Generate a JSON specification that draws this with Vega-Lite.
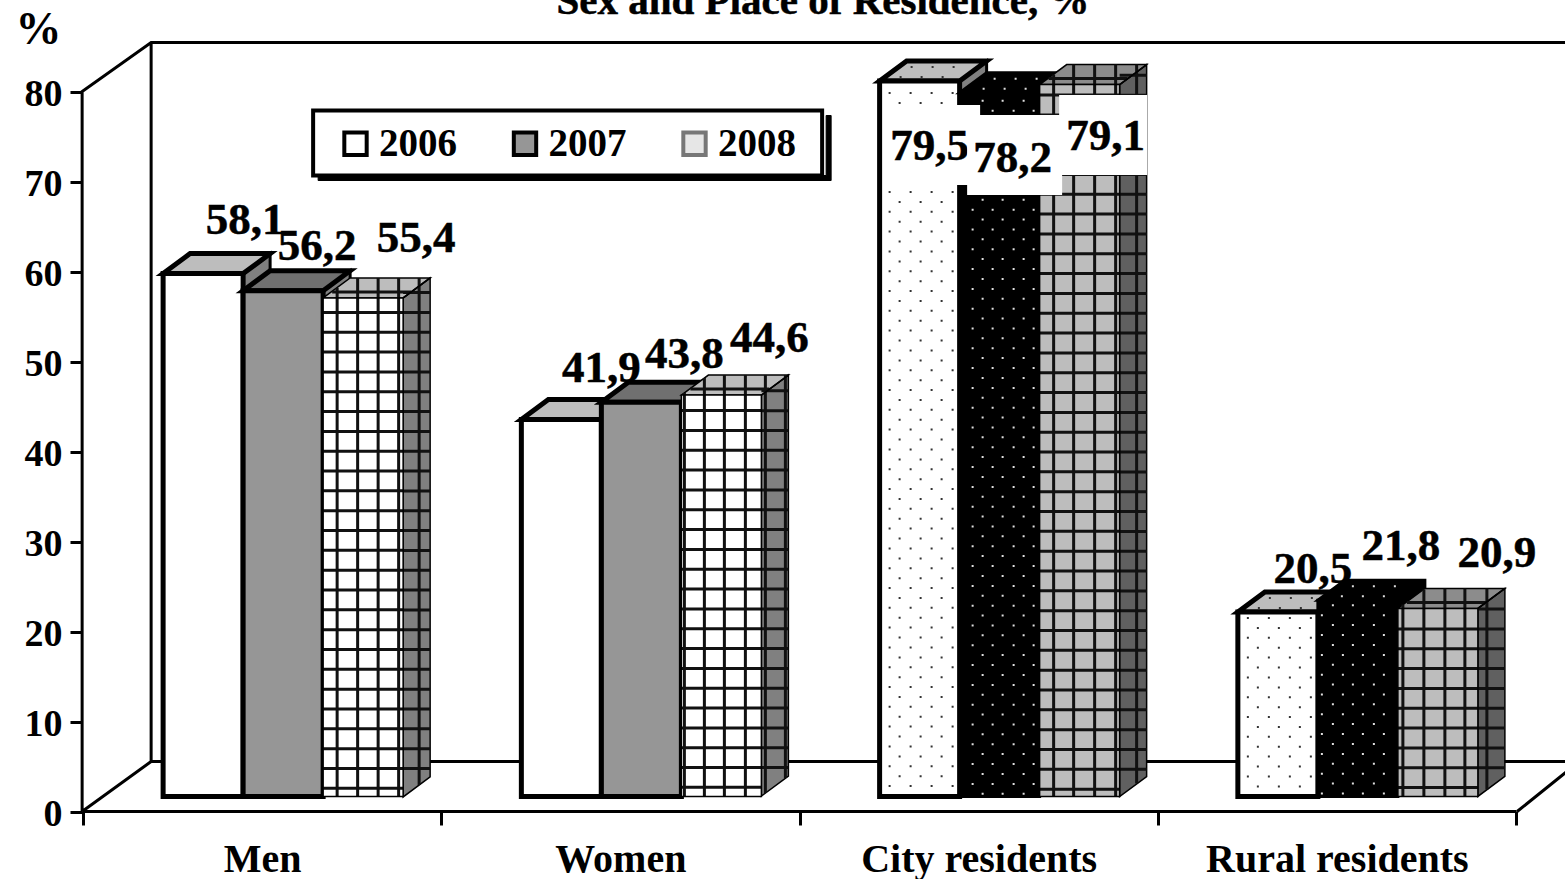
{"$schema":"https://vega.github.io/schema/vega-lite/v6.json","width":1565,"height":879,"padding":0,"autosize":{"type":"none"},"background":"white",
"config":{"view":{"stroke":null},"font":"Liberation Serif","text":{"stroke":"black","strokeWidth":0.5}},
"data":{"values":[
{"group":"Men","year":"2006","value":58.1,"label":"58,1"},
{"group":"Men","year":"2007","value":56.2,"label":"56,2"},
{"group":"Men","year":"2008","value":55.4,"label":"55,4"},
{"group":"Women","year":"2006","value":41.9,"label":"41,9"},
{"group":"Women","year":"2007","value":43.8,"label":"43,8"},
{"group":"Women","year":"2008","value":44.6,"label":"44,6"},
{"group":"City residents","year":"2006","value":79.5,"label":"79,5"},
{"group":"City residents","year":"2007","value":78.2,"label":"78,2"},
{"group":"City residents","year":"2008","value":79.1,"label":"79,1"},
{"group":"Rural residents","year":"2006","value":20.5,"label":"20,5"},
{"group":"Rural residents","year":"2007","value":21.8,"label":"21,8"},
{"group":"Rural residents","year":"2008","value":20.9,"label":"20,9"}
]},
"resolve":{"scale":{"x":"independent","y":"independent"},"axis":{"x":"independent","y":"independent"}},
"layer":[
{"transform":[{"filter":"datum.group=='Men'&&datum.year=='2007'"}],
"encoding":{
"x":{"field":"group","type":"nominal","scale":{"domain":["Men","Women","City residents","Rural residents"],"range":[83,1516],"paddingInner":0,"paddingOuter":0},"axis":{"title":null,"labelAngle":0,"offset":-68,"tickBand":"extent","ticks":true,"tickSize":14,"tickWidth":3,"tickColor":"black","domainWidth":3,"domainColor":"black","labelFont":"Liberation Serif","labelFontWeight":"bold","labelFontSize":40,"labelColor":"black","labelPadding":14,"labelOverlap":false,"labelLimit":500}},
"y":{"datum":0,"type":"quantitative","scale":{"domain":[-7.5,90.17],"nice":false,"zero":false},"axis":{"title":"%","titleAngle":0,"titleFontSize":46,"titleFont":"Liberation Serif","titleFontWeight":"bold","titleColor":"black","titleX":-44,"titleY":43,"titleAlign":"center","titleBaseline":"alphabetic","offset":-82,"zindex":1,"values":[0,10,20,30,40,50,60,70,80],"domain":false,"grid":false,"ticks":true,"tickSize":12,"tickWidth":3,"tickColor":"black","tickOpacity":1,"labelFont":"Liberation Serif","labelFontWeight":"bold","labelFontSize":38,"labelColor":"black","labelPadding":8,"labelOffset":3,"labelOverlap":false}}
},
"layer":[
{"mark":{"type":"point","opacity":1,"size":4,"filled":false,"stroke":"black","strokeWidth":3,"shape":"M-180,0V-720L-111,-769H1303M-111,-769V-50H1303M-180,0L-111,-50M1255,0L1306,-41"}},
{"mark":{"type":"point","opacity":1,"size":4,"filled":true,"fill":"black","stroke":"black","strokeWidth":1,"shape":"M56,-631H569V-696H564V-636H56Z"}},
{"mark":{"type":"point","opacity":1,"size":4,"filled":true,"fill":"white","stroke":"black","strokeWidth":4,"shape":"M51,-636H560V-701H51Z"}}
]},
{"transform":[{"filter":"datum.group=='City residents'&&datum.year=='2007'"}],
"mark":{"type":"text","text":"Sex and Place of Residence, %","dx":-155.6,"fontSize":41,"fontWeight":"bold","font":"Liberation Serif","color":"black","align":"center","baseline":"alphabetic"},
"encoding":{
"x":{"field":"group","type":"nominal","scale":{"domain":["Men","Women","City residents","Rural residents"],"range":[83,1516],"paddingInner":0,"paddingOuter":0},"axis":null},
"y":{"datum":88.6,"type":"quantitative","scale":{"domain":[-7.5,90.17],"nice":false,"zero":false},"axis":null}
}},

{"encoding":{
"x":{"field":"group","type":"nominal","scale":{"domain":["Men","Women","City residents","Rural residents"],"range":[104,1537],"paddingInner":0.33,"paddingOuter":0.165},"axis":null},
"xOffset":{"field":"year","type":"nominal","scale":{"domain":["2006","2007","2008"]}},
"y":{"field":"value","type":"quantitative","stack":null,"scale":{"domain":[-9.167,88.5],"nice":false,"zero":false},"axis":null}
},
"layer":[
{"transform":[{"filter":"datum.year=='2006'"}],"layer":[
{"mark":{"type":"point","opacity":1,"size":4,"filled":true,"fill":"#808080","stroke":"black","strokeWidth":3,"shape":"M40,0L67,-20L67,30L40,50Z"}},
{"mark":{"type":"point","opacity":1,"size":4,"filled":true,"fill":"#bdbdbd","stroke":"black","strokeWidth":5,"shape":"M-40,0L-13,-20L67,-20L40,0Z"}},
{"mark":{"type":"bar","fill":"white"}},
{"transform":[{"filter":"datum.group=='City residents'||datum.group=='Rural residents'"}],"mark":{"type":"point","opacity":1,"size":4,"filled":true,"fill":"#333","stroke":null,"shape":"M-9,-15h2v2h-2zM12,-15h2v2h-2zM33,-15h2v2h-2zM-20,-5h2v2h-2zM1,-5h2v2h-2zM22,-5h2v2h-2z"}},
{"transform":[{"filter":"datum.group=='City residents'"}],"mark":{"type":"point","opacity":1,"size":4,"filled":false,"stroke":"#333","strokeWidth":2,"strokeDash":[2,17.8],"shape":"M-30,11V715M-9,11V715M12,11V715M33,11V715M-20,21V715M1,21V715M22,21V715"}},
{"transform":[{"filter":"datum.group=='Rural residents'"}],"mark":{"type":"point","opacity":1,"size":4,"filled":false,"stroke":"#333","strokeWidth":2,"strokeDash":[2,17.8],"shape":"M-30,5V184M-9,5V184M12,5V184M33,5V184M-20,15V184M1,15V184M22,15V184"}},
{"mark":{"type":"bar","fillOpacity":0,"stroke":"black","strokeWidth":5}}
]},

{"transform":[{"filter":"datum.year=='2007'&&(datum.group=='Men'||datum.group=='Women')"}],"layer":[
{"mark":{"type":"point","opacity":1,"size":4,"filled":true,"fill":"#808080","stroke":"black","strokeWidth":3,"shape":"M40,0L67,-20L67,30L40,50Z"}},
{"mark":{"type":"point","opacity":1,"size":4,"filled":true,"fill":"#707070","stroke":"black","strokeWidth":5,"shape":"M-40,0L-13,-20L67,-20L40,0Z"}},
{"mark":{"type":"bar","fill":"#969696","stroke":"black","strokeWidth":5}}
]},
{"transform":[{"filter":"datum.year=='2007'&&(datum.group=='City residents'||datum.group=='Rural residents')"}],"layer":[
{"mark":{"type":"point","opacity":1,"size":4,"filled":true,"fill":"black","stroke":"black","strokeWidth":3,"shape":"M-40,0L-13,-20L67,-20L67,30L40,50L40,0Z"}},
{"mark":{"type":"bar","fill":"black","stroke":"black","strokeWidth":3}},
{"mark":{"type":"point","opacity":1,"size":4,"filled":true,"fill":"#ddd","stroke":null,"shape":"M-6,-15h2v2h-2zM15,-15h2v2h-2zM36,-15h2v2h-2zM-17,-5h2v2h-2zM4,-5h2v2h-2zM25,-5h2v2h-2z"}},
{"transform":[{"filter":"datum.group=='City residents'"}],"mark":{"type":"point","opacity":1,"size":4,"filled":false,"stroke":"#e0e0e0","strokeWidth":2,"strokeDash":[2,17.8],"shape":"M-27,17V703M-7,17V703M14,17V703M34,17V703M-17,7V703M3,7V703M24,7V703"}},
{"transform":[{"filter":"datum.group=='Rural residents'"}],"mark":{"type":"point","opacity":1,"size":4,"filled":false,"stroke":"#e0e0e0","strokeWidth":2,"strokeDash":[2,17.8],"shape":"M-36,14V196M-15,14V196M5,14V196M26,14V196M-25,4V196M-5,4V196M16,4V196"}}
]},

{"transform":[{"filter":"datum.year=='2008'"}],"layer":[
{"transform":[{"filter":"datum.group=='Men'"}],"mark":{"type":"point","opacity":1,"size":4,"filled":true,"fill":"#808080","stroke":"black","strokeWidth":1.5,"shape":"M40,0L67,-20L67,479L40,499Z"}},
{"transform":[{"filter":"datum.group=='Women'"}],"mark":{"type":"point","opacity":1,"size":4,"filled":true,"fill":"#808080","stroke":"black","strokeWidth":1.5,"shape":"M40,0L67,-20L67,381L40,401Z"}},
{"transform":[{"filter":"datum.group=='City residents'"}],"mark":{"type":"point","opacity":1,"size":4,"filled":true,"fill":"#606060","stroke":"black","strokeWidth":1.5,"shape":"M40,0L67,-20L67,692L40,712Z"}},
{"transform":[{"filter":"datum.group=='Rural residents'"}],"mark":{"type":"point","opacity":1,"size":4,"filled":true,"fill":"#606060","stroke":"black","strokeWidth":1.5,"shape":"M40,0L67,-20L67,168L40,188Z"}},
{"transform":[{"filter":"datum.group=='Men'||datum.group=='Women'"}],"layer":[
{"mark":{"type":"point","opacity":1,"size":4,"filled":true,"fill":"#bdbdbd","stroke":"black","strokeWidth":1.5,"shape":"M-40,0L-13,-20L67,-20L40,0Z"}},
{"mark":{"type":"bar","fill":"white"}}
]},
{"transform":[{"filter":"datum.group=='City residents'||datum.group=='Rural residents'"}],"layer":[
{"mark":{"type":"point","opacity":1,"size":4,"filled":true,"fill":"#8c8c8c","stroke":"black","strokeWidth":1.5,"shape":"M-40,0L-13,-20L67,-20L40,0Z"}},
{"mark":{"type":"bar","fill":"#bdbdbd"}}
]},
{"transform":[{"filter":"datum.group=='Men'"}],"layer":[
{"mark":{"type":"point","opacity":1,"size":4,"filled":false,"stroke":"#111","strokeWidth":80,"strokeDash":[3,16.83],"shape":"M0,13V499"}},
{"mark":{"type":"point","opacity":1,"size":4,"filled":false,"stroke":"#111","strokeWidth":27,"strokeDash":[3,16.83],"shape":"M53.5,-6.8V479"}},
{"mark":{"type":"point","opacity":1,"size":4,"filled":false,"stroke":"#111","strokeWidth":3,"shape":"M-26,-10V499M-5.5,-20V499M15,-20V499M35.5,-20V499M56,-20V487M-31,-6H48"}}
]},
{"transform":[{"filter":"datum.group=='Women'"}],"layer":[
{"mark":{"type":"point","opacity":1,"size":4,"filled":false,"stroke":"#111","strokeWidth":80,"strokeDash":[3,16.83],"shape":"M0,14V401"}},
{"mark":{"type":"point","opacity":1,"size":4,"filled":false,"stroke":"#111","strokeWidth":27,"strokeDash":[3,16.83],"shape":"M53.5,-5.8V381"}},
{"mark":{"type":"point","opacity":1,"size":4,"filled":false,"stroke":"#111","strokeWidth":3,"shape":"M-37,-2V401M-17,-17V401M3,-20V401M24,-20V401M44,-20V398M64,-20V383M-31,-6H48"}}
]},
{"transform":[{"filter":"datum.group=='City residents'"}],"layer":[
{"mark":{"type":"point","opacity":1,"size":4,"filled":false,"stroke":"#111","strokeWidth":80,"strokeDash":[3,16.83],"shape":"M0,9V712"}},
{"mark":{"type":"point","opacity":1,"size":4,"filled":false,"stroke":"#111","strokeWidth":27,"strokeDash":[3,16.83],"shape":"M53.5,-10.8V692"}},
{"mark":{"type":"point","opacity":1,"size":4,"filled":false,"stroke":"#111","strokeWidth":3,"shape":"M-26,-10V712M-6,-20V712M15,-20V712M36,-20V712M57,-20V699M-31,-6H48"}}
]},
{"transform":[{"filter":"datum.group=='Rural residents'"}],"layer":[
{"mark":{"type":"point","opacity":1,"size":4,"filled":false,"stroke":"#111","strokeWidth":80,"strokeDash":[3,16.83],"shape":"M0,19V188"}},
{"mark":{"type":"point","opacity":1,"size":4,"filled":false,"stroke":"#111","strokeWidth":27,"strokeDash":[3,16.83],"shape":"M53.5,-0.8V168"}},
{"mark":{"type":"point","opacity":1,"size":4,"filled":false,"stroke":"#111","strokeWidth":3,"shape":"M-35,-4V188M-14,-19V188M7,-20V188M27,-20V188M49,-20V181M-31,-6H48"}}
]},
{"mark":{"type":"bar","fillOpacity":0,"stroke":"black","strokeWidth":1.5}},
{"mark":{"type":"point","opacity":1,"size":4,"filled":false,"stroke":"black","strokeWidth":1.5,"shape":"M40,0L67,-20"}}
]},

{"transform":[{"filter":"datum.group=='City residents'&&datum.year=='2006'"}],"layer":[
{"mark":{"type":"point","opacity":1,"size":4,"filled":true,"fill":"white","stroke":null,"shape":"M-36.5,24H60.5V104H-36.5Z"}},
{"mark":{"type":"text","dx":10,"dy":79,"fontSize":45,"fontWeight":"bold","font":"Liberation Serif","color":"black","align":"center","baseline":"alphabetic"},"encoding":{"text":{"field":"label"}}}
]},
{"transform":[{"filter":"datum.group=='City residents'&&datum.year=='2007'"}],"layer":[
{"mark":{"type":"point","opacity":1,"size":4,"filled":true,"fill":"white","stroke":null,"shape":"M-32.5,22.3H62.5V102.3H-32.5Z"}},
{"mark":{"type":"text","dx":13,"dy":79.3,"fontSize":45,"fontWeight":"bold","font":"Liberation Serif","color":"black","align":"center","baseline":"alphabetic"},"encoding":{"text":{"field":"label"}}}
]},
{"transform":[{"filter":"datum.group=='City residents'&&datum.year=='2008'"}],"layer":[
{"mark":{"type":"point","opacity":1,"size":4,"filled":true,"fill":"white","stroke":null,"shape":"M-20.5,10.4H67.5V90.4H-20.5Z"}},
{"mark":{"type":"text","dx":26,"dy":65.4,"fontSize":45,"fontWeight":"bold","font":"Liberation Serif","color":"black","align":"center","baseline":"alphabetic"},"encoding":{"text":{"field":"label"}}}
]},
{"transform":[{"filter":"datum.group=='Men'&&datum.year=='2006'"}],"mark":{"type":"text","dx":42,"dy":-39.6,"fontSize":45,"fontWeight":"bold","font":"Liberation Serif","color":"black","align":"center","baseline":"alphabetic"},"encoding":{"text":{"field":"label"}}},
{"transform":[{"filter":"datum.group=='Men'&&datum.year=='2007'"}],"mark":{"type":"text","dx":34,"dy":-30.7,"fontSize":45,"fontWeight":"bold","font":"Liberation Serif","color":"black","align":"center","baseline":"alphabetic"},"encoding":{"text":{"field":"label"}}},
{"transform":[{"filter":"datum.group=='Men'&&datum.year=='2008'"}],"mark":{"type":"text","dx":53,"dy":-45.9,"fontSize":45,"fontWeight":"bold","font":"Liberation Serif","color":"black","align":"center","baseline":"alphabetic"},"encoding":{"text":{"field":"label"}}},
{"transform":[{"filter":"datum.group=='Women'&&datum.year=='2006'"}],"mark":{"type":"text","dx":40,"dy":-37.4,"fontSize":45,"fontWeight":"bold","font":"Liberation Serif","color":"black","align":"center","baseline":"alphabetic"},"encoding":{"text":{"field":"label"}}},
{"transform":[{"filter":"datum.group=='Women'&&datum.year=='2007'"}],"mark":{"type":"text","dx":43,"dy":-34.3,"fontSize":45,"fontWeight":"bold","font":"Liberation Serif","color":"black","align":"center","baseline":"alphabetic"},"encoding":{"text":{"field":"label"}}},
{"transform":[{"filter":"datum.group=='Women'&&datum.year=='2008'"}],"mark":{"type":"text","dx":48,"dy":-43.1,"fontSize":45,"fontWeight":"bold","font":"Liberation Serif","color":"black","align":"center","baseline":"alphabetic"},"encoding":{"text":{"field":"label"}}},
{"transform":[{"filter":"datum.group=='Rural residents'&&datum.year=='2006'"}],"mark":{"type":"text","dx":35,"dy":-29,"fontSize":45,"fontWeight":"bold","font":"Liberation Serif","color":"black","align":"center","baseline":"alphabetic"},"encoding":{"text":{"field":"label"}}},
{"transform":[{"filter":"datum.group=='Rural residents'&&datum.year=='2007'"}],"mark":{"type":"text","dx":43,"dy":-40,"fontSize":45,"fontWeight":"bold","font":"Liberation Serif","color":"black","align":"center","baseline":"alphabetic"},"encoding":{"text":{"field":"label"}}},
{"transform":[{"filter":"datum.group=='Rural residents'&&datum.year=='2008'"}],"mark":{"type":"text","dx":59,"dy":-41,"fontSize":45,"fontWeight":"bold","font":"Liberation Serif","color":"black","align":"center","baseline":"alphabetic"},"encoding":{"text":{"field":"label"}}},

{"mark":{"type":"bar","opacity":0},"encoding":{
"color":{"field":"year","type":"nominal","scale":{"domain":["2006","2007","2008"],"range":["white","#969696","#e6e6e6"]},"legend":{"title":null,"orient":"none","legendX":336,"legendY":124,"direction":"horizontal","columns":3,"symbolType":"square","symbolSize":500,"symbolOpacity":1,"symbolStrokeWidth":4,"labelFont":"Liberation Serif","labelFontWeight":"bold","labelFontSize":39,"labelColor":"black","labelOffset":4,"columnPadding":48.5,"padding":0}},
"stroke":{"field":"year","type":"nominal","scale":{"domain":["2006","2007","2008"],"range":["black","black","#777"]},"legend":{"title":null,"orient":"none","legendX":336,"legendY":124,"direction":"horizontal","columns":3,"symbolType":"square","symbolSize":500,"symbolOpacity":1,"symbolStrokeWidth":4,"labelFont":"Liberation Serif","labelFontWeight":"bold","labelFontSize":39,"labelColor":"black","labelOffset":4,"columnPadding":48.5,"padding":0}}
}}
]}
]}
